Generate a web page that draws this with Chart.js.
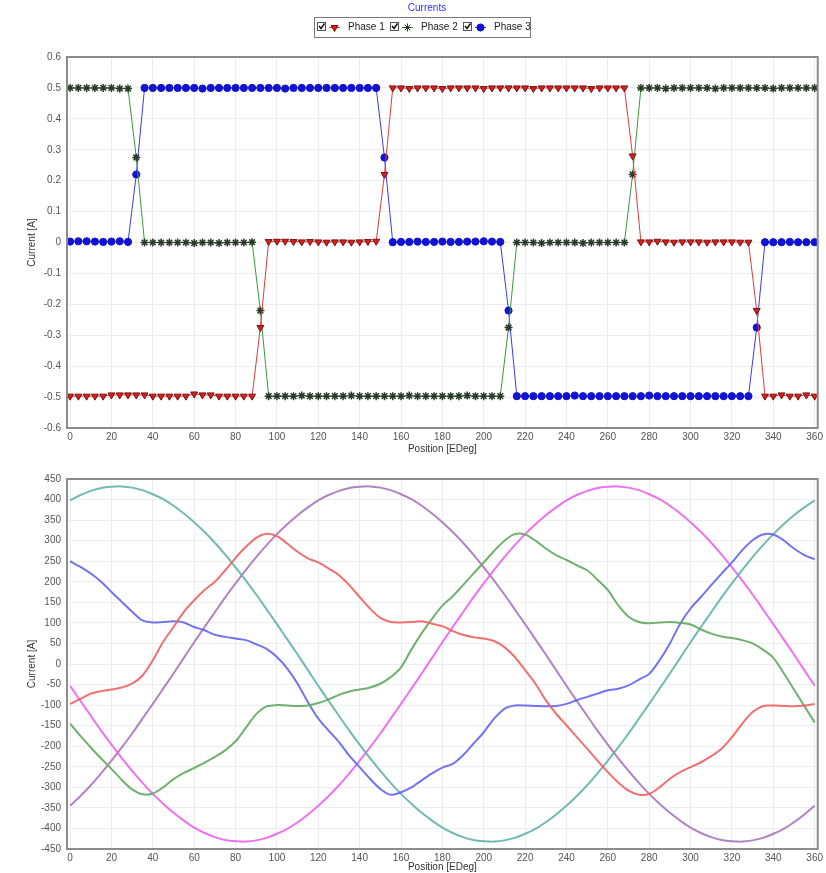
<!DOCTYPE html>
<html>
<head>
<meta charset="utf-8">
<title>Currents</title>
<script src="https://cdn.jsdelivr.net/npm/chart.js@4.4.1/dist/chart.umd.min.js"></script>
<style>
    body { margin: 0; background: #fff; }
    #topBox { position: absolute; left: 0; top: 0; width: 826px; height: 455px; }
    #bottomBox { position: absolute; left: 0; top: 462px; width: 826px; height: 411px; }
</style>
</head>
<body>
<div id="topBox"><canvas id="currentChart"></canvas></div>
<div id="bottomBox"><canvas id="waveChart"></canvas></div>
<script>
// Vị trí (độ điện) cho biểu đồ dòng pha, bước 4 độ
const stepPositions = [0,4,8,12,16,20,24,28,32,36,40,44,48,52,56,60,64,68,72,76,80,84,88,92,96,100,104,108,112,116,120,124,128,132,136,140,144,148,152,156,160,164,168,172,176,180,184,188,192,196,200,204,208,212,216,220,224,228,232,236,240,244,248,252,256,260,264,268,272,276,280,284,288,292,296,300,304,308,312,316,320,324,328,332,336,340,344,348,352,356,360];

const phase1 = [-0.497,-0.497,-0.497,-0.497,-0.497,-0.493,-0.493,-0.493,
    -0.493,-0.493,-0.497,-0.497,-0.497,-0.497,-0.497,-0.49,
    -0.493,-0.493,-0.497,-0.497,-0.497,-0.497,-0.497,
    -0.275,
    0.003,0.004,0.004,0.003,0.002,0.003,0.002,0.001,0.002,0.002,0.001,0.002,0.003,0.004,
    0.22,
    0.5,0.5,0.498,0.5,0.5,0.5,0.498,0.5,0.5,0.5,0.5,0.498,0.5,0.5,0.5,0.5,0.5,0.498,0.5,0.5,0.5,0.5,0.5,0.5,0.498,0.5,0.5,0.5,0.5,
    0.28,
    0.002,0.002,0.004,0.002,0.001,0.002,0.002,0.002,0.001,0.002,0.002,0.002,0.001,0.001,
    -0.22,
    -0.497,-0.497,-0.493,-0.497,-0.497,-0.493,-0.497];

const phase2 = [0.5,0.5,0.5,0.5,0.5,0.5,0.498,0.498,
    0.275,
    0,0,0,0,0,0,-0.002,0,0,-0.002,0,0,0,0.001,
    -0.22,
    -0.497,-0.497,-0.497,-0.497,-0.495,-0.497,-0.497,-0.497,-0.497,-0.497,-0.495,-0.497,-0.497,-0.497,-0.497,-0.497,-0.497,-0.495,-0.497,-0.497,-0.497,-0.497,-0.497,-0.497,-0.495,-0.497,-0.497,-0.497,-0.497,
    -0.275,
    0,0,0,-0.002,0,0,0,0,-0.002,0,0,0,0,0,
    0.22,
    0.5,0.5,0.5,0.498,0.5,0.5,0.5,0.5,0.5,0.498,0.5,0.5,0.5,0.5,0.5,0.5,0.498,0.5,0.5,0.5,0.5,0.5];

const phase3 = [0.003,0.004,0.004,0.003,0.002,0.003,0.004,0.002,
    0.22,
    0.5,0.5,0.5,0.5,0.5,0.5,0.5,0.498,0.5,0.5,0.5,0.5,0.5,0.5,0.5,0.5,0.5,0.498,0.5,0.5,0.5,0.5,0.5,0.5,0.5,0.5,0.5,0.5,0.5,
    0.275,
    0.001,0.002,0.002,0.003,0.002,0.002,0.003,0.002,0.002,0.003,0.003,0.004,0.003,0.002,
    -0.22,
    -0.497,-0.497,-0.497,-0.497,-0.497,-0.497,-0.497,-0.495,-0.497,-0.497,-0.497,-0.497,-0.497,-0.497,-0.497,-0.497,-0.495,-0.497,-0.497,-0.497,-0.497,-0.497,-0.497,-0.497,-0.497,-0.497,-0.497,-0.497,-0.497,
    -0.275,
    0.001,0.001,0.001,0.002,0.001,0.001,0.001];

const phaseNames = ['Phase 1', 'Phase 2', 'Phase 3'];

// Vị trí cho biểu đồ dòng điện dạng sóng, bước 5 độ
const wavePositions = [0,5,10,15,20,25,30,35,40,45,50,55,60,65,70,75,80,85,90,95,100,105,110,115,120,125,130,135,140,145,150,155,160,165,170,175,180,185,190,195,200,205,210,215,220,225,230,235,240,245,250,255,260,265,270,275,280,285,290,295,300,305,310,315,320,325,330,335,340,345,350,355,360];

const waveRed = [-97,-85,-72,-66,-62,-57,-48,-28,9,54,90,127,155,180,200,228,258,285,307,317,311,293,273,257,247,232,216,192,163,135,112,102,101,102,104,98,92,80,71,65,62,56,41,17,-15,-48,-88,-121,-149,-178,-206,-235,-263,-288,-308,-318,-316,-300,-279,-263,-251,-239,-224,-206,-178,-145,-117,-102,-101,-102,-103,-101,-97];
const waveGreen = [-145,-175,-203,-230,-255,-282,-305,-317,-315,-300,-280,-265,-253,-240,-226,-210,-188,-155,-122,-103,-100,-101,-102,-101,-95,-86,-75,-67,-62,-57,-48,-32,-8,35,75,110,142,165,192,220,247,275,300,316,315,300,281,265,253,240,228,205,180,143,115,102,99,101,102,100,96,84,74,67,63,58,50,35,15,-22,-62,-102,-142];
const waveBlue = [250,236,220,200,175,151,127,106,101,102,104,101,90,82,71,66,62,58,48,37,17,-11,-48,-93,-133,-162,-190,-223,-251,-279,-304,-318,-312,-300,-283,-266,-252,-243,-222,-194,-166,-133,-109,-101,-101,-102,-103,-102,-97,-88,-80,-72,-64,-60,-52,-38,-24,9,50,98,135,163,192,220,247,277,301,315,315,301,281,265,255];
const waveTeal = [398,411,421,428,431,432,429,423,413,401,385,366,345,321,295,266,235,203,169,133,97,60,23,-15,-53,-90,-126,-162,-196,-229,-260,-289,-316,-340,-362,-381,-398,-411,-421,-428,-431,-432,-429,-423,-413,-401,-385,-366,-345,-321,-295,-266,-235,-203,-169,-133,-97,-60,-23,15,53,90,126,162,196,229,260,289,316,340,362,381,398];
const wavePurple = [-345,-321,-295,-266,-235,-203,-169,-133,-97,-60,-23,15,53,90,126,162,196,229,260,289,316,340,362,381,398,411,421,428,431,432,429,423,413,401,385,366,345,321,295,266,235,203,169,133,97,60,23,-15,-53,-90,-126,-162,-196,-229,-260,-289,-316,-340,-362,-381,-398,-411,-421,-428,-431,-432,-429,-423,-413,-401,-385,-366,-345];
const waveMagenta = [-53,-90,-126,-162,-196,-229,-260,-289,-316,-340,-362,-381,-398,-411,-421,-428,-431,-432,-429,-423,-413,-401,-385,-366,-345,-321,-295,-266,-235,-203,-169,-133,-97,-60,-23,15,53,90,126,162,196,229,260,289,316,340,362,381,398,411,421,428,431,432,429,423,413,401,385,366,345,321,295,266,235,203,169,133,97,60,23,-15,-53];

// Nhãn trục
const xTicks = [0,20,40,60,80,100,120,140,160,180,200,220,240,260,280,300,320,340,360];
const chartTitle = 'Currents';
const xTitle = 'Position [EDeg]';
const yTitle = 'Current [A]';

const FONT = 'Liberation Sans, Arial, sans-serif';

function toPoints(xs, ys) {
    return xs.map((x, i) => ({ x: x, y: ys[i] }));
}

// Khung xám quanh vùng vẽ
const plotFrame = {
    id: 'plotFrame',
    afterDraw(chart) {
        const a = chart.chartArea;
        const ctx = chart.ctx;
        ctx.save();
        ctx.strokeStyle = '#8c8c8c';
        ctx.lineWidth = 2;
        ctx.strokeRect(a.left, a.top, a.right - a.left, a.bottom - a.top);
        ctx.restore();
    }
};

// Tiêu đề và chú thích có ô đánh dấu
const checkLegend = {
    id: 'checkLegend',
    afterDraw(chart) {
        const ctx = chart.ctx;
        ctx.save();
        ctx.font = '10px ' + FONT;
        ctx.fillStyle = '#2f2fff';
        ctx.textAlign = 'center';
        ctx.textBaseline = 'middle';
        ctx.fillText(chartTitle, 427, 8);

        ctx.strokeStyle = '#7a7a7a';
        ctx.lineWidth = 1;
        ctx.strokeRect(314.5, 17.5, 216, 20);

        const starts = [317, 390, 463];
        chart.data.datasets.forEach((ds, i) => {
            const x = starts[i];
            const y = 27.5;
            // ô đánh dấu
            ctx.fillStyle = '#fff';
            ctx.fillRect(x, 22, 9, 9);
            ctx.strokeStyle = '#555';
            ctx.strokeRect(x + 0.5, 22.5, 8, 8);
            ctx.strokeStyle = '#111';
            ctx.lineWidth = 1.5;
            ctx.beginPath();
            ctx.moveTo(x + 2, 26);
            ctx.lineTo(x + 4, 28.5);
            ctx.lineTo(x + 7.5, 23.5);
            ctx.stroke();
            ctx.lineWidth = 1;
            // đường + điểm
            ctx.strokeStyle = ds.borderColor;
            ctx.beginPath();
            ctx.moveTo(x + 12, y);
            ctx.lineTo(x + 23, y);
            ctx.stroke();
            ctx.fillStyle = ds.pointBackgroundColor;
            ctx.strokeStyle = ds.pointBorderColor;
            Chart.helpers.drawPoint(ctx, {
                pointStyle: ds.pointStyle,
                rotation: ds.pointRotation || 0,
                radius: ds.pointRadius,
                borderWidth: 1
            }, x + 17.5, y);
            // chữ
            ctx.fillStyle = '#222';
            ctx.textAlign = 'left';
            ctx.fillText(ds.label, x + 31, y);
        });
        ctx.restore();
    }
};

function axisOptions(yMin, yMax, yStep, xAxisHeight) {
    return {
        x: {
            type: 'linear',
            min: -1.5,
            max: 361.5,
            afterBuildTicks: s => { s.ticks = xTicks.map(v => ({ value: v })); },
            afterFit: s => { s.height = xAxisHeight; },
            grid: { color: '#ededed', drawTicks: false },
            border: { display: false },
            ticks: { padding: 3, color: '#555', font: { family: FONT, size: 10 }, maxRotation: 0 },
            title: { display: true, text: xTitle, color: '#333', font: { family: FONT, size: 10 }, padding: { top: 0, bottom: 0 } }
        },
        y: {
            min: yMin,
            max: yMax,
            afterFit: s => { s.width = 67; },
            grid: { color: '#ededed', drawTicks: false },
            border: { display: false },
            ticks: { stepSize: yStep, padding: 6, color: '#555', font: { family: FONT, size: 10 } },
            title: { display: true, text: yTitle, color: '#333', font: { family: FONT, size: 10 }, padding: { top: 26, bottom: 0 } }
        }
    };
}

// Biểu đồ 1: dòng pha dạng bậc
const currentChart = new Chart(document.getElementById('currentChart'), {
    type: 'line',
    data: {
        datasets: [{
            label: phaseNames[0],
            data: toPoints(stepPositions, phase1),
            borderColor: '#e03a3a',
            borderWidth: 1,
            pointStyle: 'triangle',
            pointRotation: 180,
            pointRadius: 4,
            pointBackgroundColor: '#d42020',
            pointBorderColor: '#7a1010',
            pointBorderWidth: 1
        }, {
            label: phaseNames[1],
            data: toPoints(stepPositions, phase2),
            borderColor: '#3a9a3a',
            borderWidth: 1,
            pointStyle: 'star',
            pointRadius: 4,
            pointBackgroundColor: '#2a3a2a',
            pointBorderColor: '#2a3a2a',
            pointBorderWidth: 1.5
        }, {
            label: phaseNames[2],
            data: toPoints(stepPositions, phase3),
            borderColor: '#3a3ae8',
            borderWidth: 1,
            pointStyle: 'circle',
            pointRadius: 3.6,
            pointBackgroundColor: '#1212d2',
            pointBorderColor: '#1212d2',
            pointBorderWidth: 1
        }]
    },
    options: {
        responsive: true,
        maintainAspectRatio: false,
        animation: false,
        devicePixelRatio: 1,
        layout: { padding: { top: 57, left: 0, right: 0, bottom: 0 } },
        plugins: { legend: { display: false }, tooltip: { enabled: false } },
        scales: axisOptions(-0.6, 0.6, 0.1, 27)
    },
    plugins: [plotFrame, checkLegend]
});

// Biểu đồ 2: dòng điện dạng sóng
const waveColors = ['rgba(238,96,96,0.9)', 'rgba(96,168,96,0.9)', 'rgba(100,100,238,0.9)', 'rgba(98,178,168,0.9)', 'rgba(238,98,238,0.9)', 'rgba(168,118,188,0.9)'];
const waveSeries = [waveRed, waveGreen, waveBlue, waveTeal, waveMagenta, wavePurple];

const waveChart = new Chart(document.getElementById('waveChart'), {
    type: 'line',
    data: {
        datasets: waveSeries.map((values, i) => ({
            data: toPoints(wavePositions, values),
            borderColor: waveColors[i],
            borderWidth: 2,
            pointRadius: 0,
            tension: 0.3
        }))
    },
    options: {
        responsive: true,
        maintainAspectRatio: false,
        animation: false,
        devicePixelRatio: 1,
        layout: { padding: { top: 17, left: 0, right: 0, bottom: 0 } },
        plugins: { legend: { display: false }, tooltip: { enabled: false } },
        scales: axisOptions(-450, 450, 50, 24)
    },
    plugins: [plotFrame]
});
</script>
</body>
</html>
